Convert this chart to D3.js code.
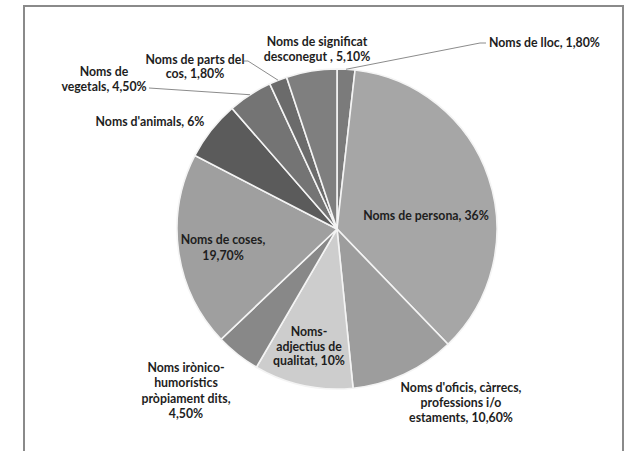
<!DOCTYPE html>
<html>
<head>
<meta charset="utf-8">
<script src="https://cdn.jsdelivr.net/npm/d3@7"></script>
<style>
  body { margin: 0; background: #fff; }
  text { font-family: Lato, "Open Sans", sans-serif; font-weight: bold; font-size: 12.3px; fill: #1e1e1e; }
</style>
</head>
<body>
<svg id="chart" width="634" height="451"></svg>
<script>
// categories, clockwise from 12 o'clock
const categories = [
  "Noms de lloc",
  "Noms de persona",
  "Noms d'oficis, càrrecs, professions i/o estaments",
  "Noms-adjectius de qualitat",
  "Noms irònico-humorístics pròpiament dits",
  "Noms de coses",
  "Noms d'animals",
  "Noms de vegetals",
  "Noms de parts del cos",
  "Noms de significat desconegut"
];
const values = [1.8, 36, 10.6, 10, 4.5, 19.7, 6, 4.5, 1.8, 5.1];
const valueLabels = ["1,80%", "36%", "10,60%", "10%", "4,50%", "19,70%", "6%", "4,50%", "1,80%", "5,10%"];
// label text broken into lines as in the original
const labelLines = [
  ["Noms de lloc, 1,80%"],
  ["Noms de persona, 36%"],
  ["Noms d'oficis, càrrecs,", "professions i/o", "estaments, 10,60%"],
  ["Noms-", "adjectius de", "qualitat, 10%"],
  ["Noms irònico-", "humorístics", "pròpiament dits,", "4,50%"],
  ["Noms de coses,", "19,70%"],
  ["Noms d'animals, 6%"],
  ["Noms de", "vegetals, 4,50%"],
  ["Noms de parts del", "cos, 1,80%"],
  ["Noms de significat", "desconegut , 5,10%"]
];
const shades = ["#7b7b7b", "#a6a6a6", "#9d9d9d", "#cdcdcd", "#888888",
                "#9f9f9f", "#5b5b5b", "#747474", "#6b6b6b", "#7f7f7f"];

// layout: label anchor (x, first line centre y) and optional leader elbow
const labelPos = [
  {x: 489, y: 43, anchor: "start", elbow: [480, 43], end: [486, 43]},
  {x: 426, y: 216},
  {x: 461, y: 388},
  {x: 309, y: 332},
  {x: 186, y: 368},
  {x: 223, y: 240},
  {x: 150, y: 122},
  {x: 104, y: 72, elbow: [149, 88], end: [149, 88]},
  {x: 195, y: 60, elbow: [248, 61], end: [244, 61]},
  {x: 317, y: 42}
];
const lineGap = [0, 0, 15, 14.5, 15.3, 16, 0, 15, 14, 15];

const svg = d3.select("#chart");
const cx = 337, cy = 229, r = 160;

// outer frame (no bottom edge visible)
svg.append("path")
   .attr("d", "M24,451 L24,6 L623,6 L623,451")
   .attr("fill", "none")
   .attr("stroke", "#8a8a8a")
   .attr("stroke-width", 2);

const pie = d3.pie().sort(null).value(d => d)(values);
const arc = d3.arc().innerRadius(0).outerRadius(r);

const g = svg.append("g").attr("transform", "translate(" + cx + "," + cy + ")");

g.selectAll("path.slice")
 .data(pie)
 .enter().append("path")
 .attr("class", "slice")
 .attr("d", arc)
 .attr("fill", (d, i) => shades[i])
 .attr("stroke", "#f4f4f4")
 .attr("stroke-width", 1.6);

// leader lines
pie.forEach((d, i) => {
  const p = labelPos[i];
  if (!p.elbow) return;
  const a = (d.startAngle + d.endAngle) / 2;
  const sx = cx + r * Math.sin(a), sy = cy - r * Math.cos(a);
  svg.append("path")
     .attr("d", d3.line()([[sx, sy], p.elbow, p.end]))
     .attr("fill", "none")
     .attr("stroke", "#8c8c8c")
     .attr("stroke-width", 1);
});

// labels
labelLines.forEach((lines, i) => {
  const p = labelPos[i];
  const t = svg.append("text")
     .attr("text-anchor", p.anchor || "middle");
  lines.forEach((s, k) => {
    t.append("tspan")
     .attr("x", p.x)
     .attr("y", p.y + k * lineGap[i] + 4)
     .text(s);
  });
});
</script>
</body>
</html>
